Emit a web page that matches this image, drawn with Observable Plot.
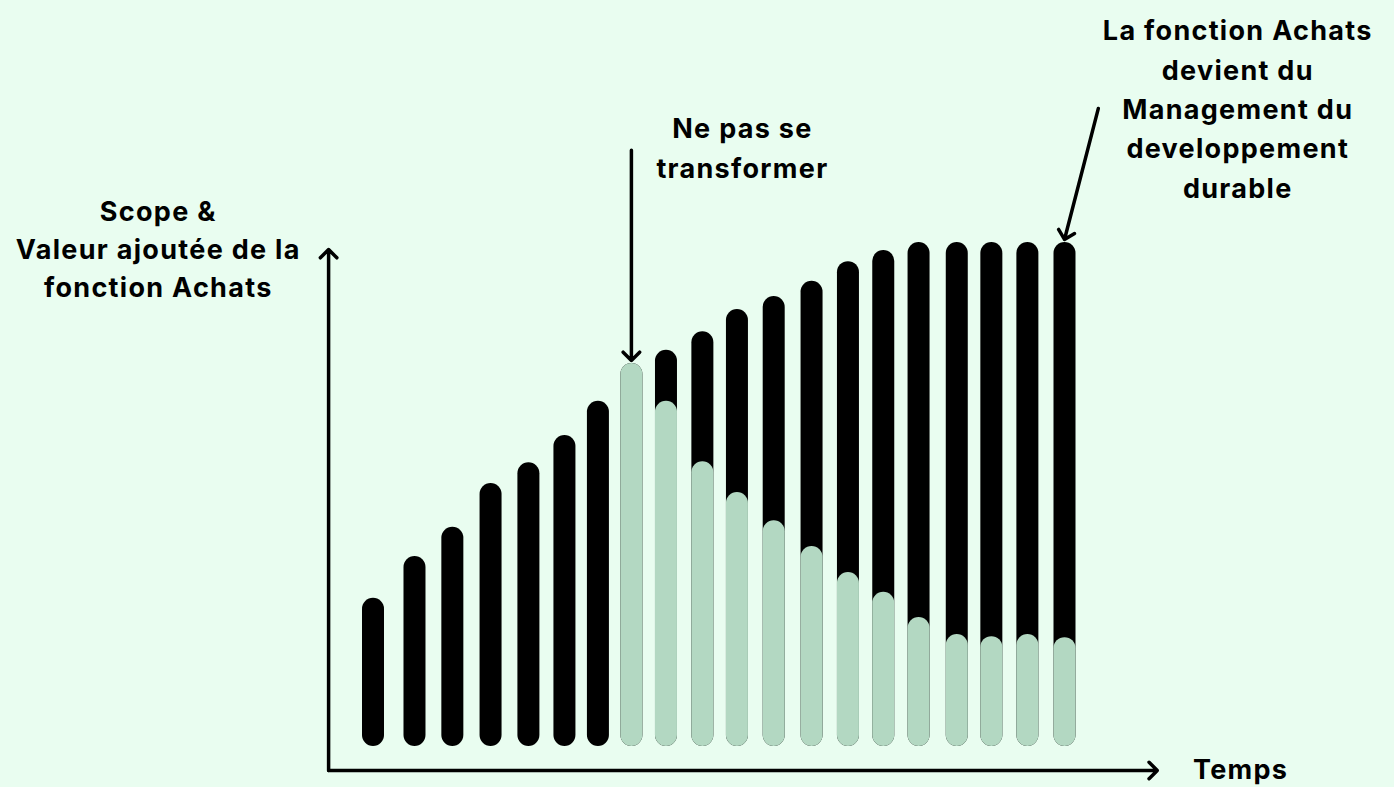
<!DOCTYPE html>
<html>
<head>
<meta charset="utf-8">
<script src="https://cdn.jsdelivr.net/npm/d3@7"></script>
<script src="https://cdn.jsdelivr.net/npm/@observablehq/plot@0.6"></script>
<style>
  html, body { margin: 0; padding: 0; background: #e9fdf0; overflow: hidden; }
  svg { display: block; }
</style>
</head>
<body>
<div id="chart"></div>
<script>
// Time position of each bar
const periods = [1.00,2.14,3.18,4.23,5.27,6.26,7.18,8.10,9.05,10.05,11.00,12.01,13.05,14.05,15.02,15.99,17.04,17.99,18.98,20.00];
// Total scope & value added (black bars)
const totalValue = [29.4,37.7,43.5,52.2,56.3,61.7,68.5,76.0,78.6,82.3,86.7,89.3,92.3,96.2,98.4,100,100,100,100,100];
// Value without transformation (green bars), none for the first 7 periods
const flatValue = [null,null,null,null,null,null,null,76.0,68.5,56.5,50.4,44.8,39.7,34.5,30.6,25.6,22.2,21.8,22.2,21.6];

const yLabel = "Scope &\nValeur ajoutée de la\nfonction Achats";
const xLabel = "Temps";
const note1 = "Ne pas se\ntransformer";
const note2 = "La fonction Achats\ndevient du\nManagement du\ndeveloppement\ndurable";

const rows = periods.map((p, i) => ({period: p, total: totalValue[i], flat: flatValue[i]}));
const greenRows = rows.filter(d => d.flat != null);
const lastRow = rows[rows.length - 1];

const BLACK = "#000000";
const GREEN = "#b3d8c2";
const font = "Inter, 'Open Sans', sans-serif";

const chart = Plot.plot({
  width: 1394,
  height: 787,
  x: {type: "linear", domain: [1, 20], range: [372.5, 1064], axis: null},
  y: {type: "linear", domain: [0, 100], range: [746, 242], axis: null},
  style: {background: "#e9fdf0", fontFamily: font, letterSpacing: "1.3px"},
  marks: [
    // axes with arrowheads
    Plot.arrow([{}], {x1: -0.22, y1: -4.76, x2: -0.22, y2: 98.6, stroke: BLACK, strokeWidth: 3.5, headLength: 5, headAngle: 90}),
    Plot.arrow([{}], {x1: -0.22, y1: -4.76, x2: 22.55, y2: -4.76, stroke: BLACK, strokeWidth: 3.5, headLength: 5, headAngle: 90}),
    // black bars
    Plot.ruleX(rows, {x: "period", y1: "total", y2: 0, stroke: BLACK, strokeWidth: 22, strokeLinecap: "round", insetTop: 11, insetBottom: 11}),
    // green bars
    Plot.ruleX(greenRows, {x: "period", y1: "flat", y2: 0, stroke: GREEN, strokeWidth: 22, strokeLinecap: "round", insetTop: 11, insetBottom: 11}),
    // annotation arrows
    Plot.arrow(greenRows.slice(0, 1), {x1: "period", y1: 118.3, x2: "period", y2: d => d.flat + 0.6, stroke: BLACK, strokeWidth: 3.5, headLength: 5, headAngle: 90}),
    Plot.arrow([lastRow], {x1: 20.93, y1: 126.6, x2: "period", y2: d => d.total + 0.6, stroke: BLACK, strokeWidth: 3.5, headLength: 5, headAngle: 90}),
    // texts
    Plot.text([yLabel], {x: -4.9, y: 99.1, text: d => d, fontSize: 27, fontWeight: 700, lineHeight: 1.4, fill: BLACK}),
    Plot.text([note1], {x: 11.15, y: 119.3, text: d => d, fontSize: 27, fontWeight: 700, lineHeight: 1.46, fill: BLACK}),
    Plot.text([note2], {x: 24.76, y: 127.0, text: d => d, fontSize: 27, fontWeight: 700, lineHeight: 1.46, fill: BLACK}),
    Plot.text([xLabel], {x: 24.84, y: -4.8, text: d => d, fontSize: 27, fontWeight: 700, fill: BLACK})
  ]
});
document.getElementById("chart").appendChild(chart);
</script>
</body>
</html>
